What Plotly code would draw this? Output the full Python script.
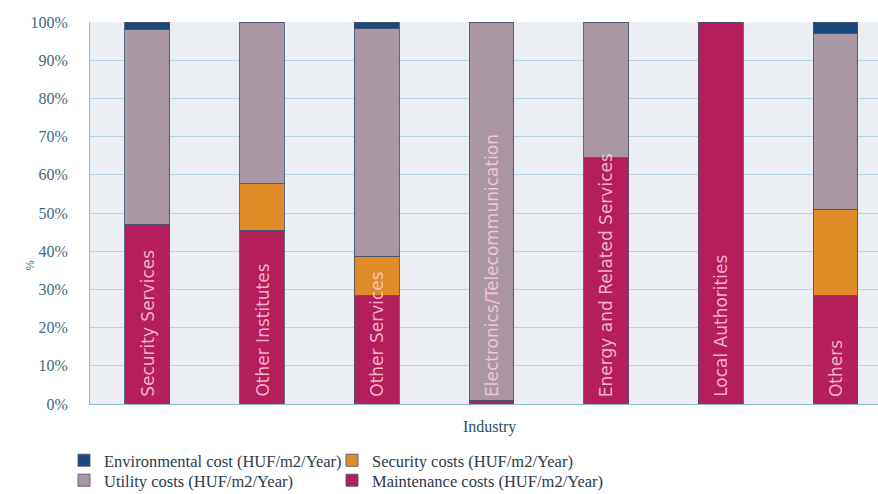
import plotly.graph_objects as go

categories = ["Security Services", "Other Institutes", "Other Services",
              "Electronics/Telecommunication", "Energy and Related Services",
              "Local Authorities", "Others"]
maintenance = [47.1, 45.5, 28.3, 1.0, 64.4, 100.0, 28.3]
security = [0.0, 12.1, 10.4, 0.0, 0.0, 0.0, 22.7]
utility = [50.9, 42.4, 59.5, 99.0, 35.6, 0.0, 45.9]
environmental = [2.0, 0.0, 1.8, 0.0, 0.0, 0.0, 3.1]
y_ticks = list(range(0, 101, 10))
y_tick_labels = [f"{v}%" for v in y_ticks]

# (name, values, colour, legend id) in stacking order bottom -> top
series = [
    ("Maintenance costs (HUF/m2/Year)", maintenance, "#b31e5b", "legend4"),
    ("Security costs (HUF/m2/Year)", security, "#e08a28", "legend2"),
    ("Utility costs (HUF/m2/Year)", utility, "#a997a3", "legend3"),
    ("Environmental cost (HUF/m2/Year)", environmental, "#1a4a7c", "legend"),
]

fig = go.Figure()
for name, vals, color, leg in series:
    fig.add_trace(go.Bar(
        x=categories, y=vals, name=name, legend=leg,
        marker=dict(color=color, line=dict(color="rgba(70,85,110,0.85)", width=1)),
    ))

for cat in categories:
    fig.add_annotation(
        x=cat, y=0, xref="x", yref="y", text=cat, textangle=-90,
        showarrow=False, yanchor="bottom", xanchor="center", yshift=5,
        font=dict(family="DejaVu Sans", size=17, color="rgba(255,205,225,0.85)"),
    )

fig.add_annotation(
    x=(489 - 90) / 788, y=-0.06, xref="paper", yref="paper", text="Industry",
    showarrow=False, xanchor="center", yanchor="middle",
    font=dict(family="Liberation Serif", size=16, color="#2f4f5f"),
)
fig.add_annotation(
    x=-0.086, y=0.364, xref="paper", yref="paper", text="%", textangle=-90,
    showarrow=False, font=dict(family="Liberation Sans", size=11, color="#3b7a9a"),
)

legend_font = dict(family="Liberation Serif", size=16.5, color="#2b3a4a")


def legend_box(px_left, px_top):
    return dict(x=(px_left - 90) / 788, y=-(px_top - 404) / 382,
                xanchor="left", yanchor="top", font=legend_font,
                bgcolor="rgba(0,0,0,0)", itemwidth=30)


fig.update_layout(
    width=878, height=494,
    margin=dict(l=90, r=0, t=22, b=90, autoexpand=False),
    barmode="stack", bargap=0.61,
    paper_bgcolor="white", plot_bgcolor="#ebeef2",
    xaxis=dict(range=[-0.5, 6.37], showticklabels=False, showgrid=False,
               showline=True, linecolor="#8fbcd6", linewidth=1),
    yaxis=dict(range=[0, 100], tickmode="array", tickvals=y_ticks, ticktext=y_tick_labels,
               gridcolor="#b8d2e2", gridwidth=1, zeroline=False,
               showline=True, linecolor="#8fbcd6", linewidth=1,
               ticklabelstandoff=18,
               tickfont=dict(family="Liberation Serif", size=16, color="#3b6a82")),
    legend=legend_box(64, 443),
    legend2=legend_box(332, 443),
    legend3=legend_box(64, 463),
    legend4=legend_box(332, 463),
    showlegend=True,
)

fig.write_html("out.html")
